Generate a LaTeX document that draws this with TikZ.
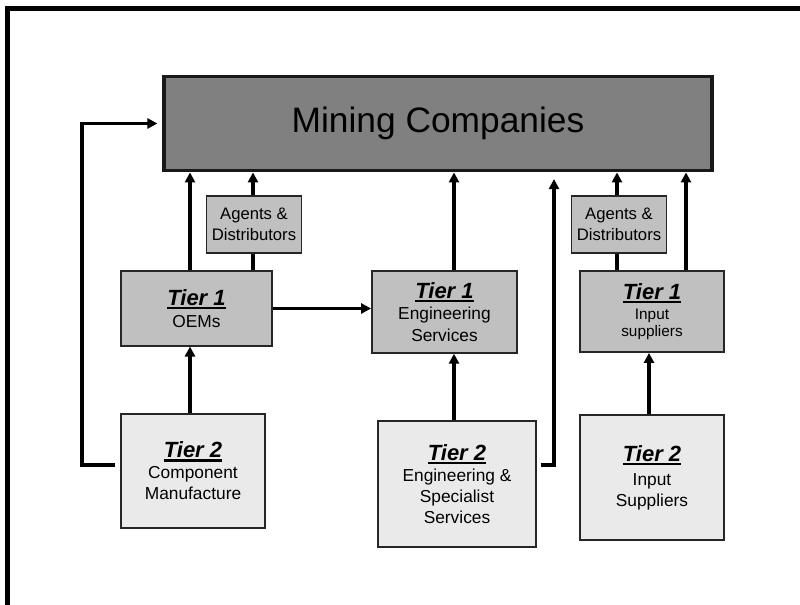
\documentclass[tikz,border=0pt]{standalone}
\usepackage{fontspec}
\setmainfont{Liberation Sans}
\usetikzlibrary{arrows.meta}
\definecolor{minegray}{HTML}{808080}
\definecolor{tieronegray}{HTML}{C0C0C0}
\definecolor{tiertwogray}{HTML}{EAEAEA}
\tikzset{
  mine/.style={rectangle, draw=black!90, line width=2.4pt, fill=minegray,
    minimum width=411pt, minimum height=71pt, font=\fontsize{26.5}{30}\selectfont},
  agent/.style={rectangle, draw=black!85, line width=1.1pt, fill=tieronegray,
    minimum width=71pt, minimum height=43pt, align=center, inner sep=0pt,
    font=\fontsize{12.5}{16}\selectfont},
  tierone/.style={rectangle, draw=black!85, line width=1.1pt, fill=tieronegray,
    align=center, inner sep=0pt, font=\fontsize{13}{16}\selectfont},
  tiertwo/.style={tierone, fill=tiertwogray, font=\fontsize{13}{15.75}\selectfont},
  arrowline/.style={-{Triangle[length=7.5pt, width=7.5pt]}, line width=2.6pt},
  plainline/.style={line width=2.6pt},
  frameline/.style={line width=3.75pt, line join=miter}
}
\newcommand{\tierlbl}[1]{\setbox0\hbox{\fontsize{16.5}{16}\selectfont\bfseries\itshape Tier #1}\rlap{\rule[-2.8pt]{\wd0}{1.7pt}}\box0}

\begin{document}
\begin{tikzpicture}[x=0.75pt, y=-0.75pt]
  \useasboundingbox (0,0) rectangle (800,605);
  \draw[frameline] (7.5,606) -- (7.5,8.5) -- (801,8.5);

  \node[mine] (mining) at (438,123.5) {Mining Companies};
  \node[agent] (agentsA) at (254,224.5) {Agents \&\\Distributors};
  \node[agent] (agentsB) at (619,224.5) {Agents \&\\Distributors};

  \node[tierone, minimum width=113pt, minimum height=56pt] (oem) at (196.5,308.5) {\tierlbl{1}\\OEMs};
  \node[tierone, minimum width=109pt, minimum height=61.5pt] (eng) at (444.5,312) {\tierlbl{1}\\Engineering\\Services};
  \node[tierone, minimum width=108pt, minimum height=61pt, font=\fontsize{11.5}{13}\selectfont] (input) at (652,311.5) {\tierlbl{1}\\[2pt]Input\\suppliers};

  \node[tiertwo, minimum width=108pt, minimum height=85.5pt] (tcomp) at (193,471) {\tierlbl{2}\\Component\\Manufacture};
  \node[tiertwo, minimum width=118.5pt, minimum height=94.5pt] (teng) at (457,484) {\tierlbl{2}\\Engineering \&\\Specialist\\Services};
  \node[tiertwo, minimum width=108pt, minimum height=94pt] (tinput) at (652,477.5) {\tierlbl{2}\\[2pt]Input\\Suppliers};

  % columns of the vertical links
  \coordinate (colA) at (190,0);
  \coordinate (colB) at (253,0);
  \coordinate (colC) at (454,0);
  \coordinate (colE) at (617,0);
  \coordinate (colF) at (649,0);
  \coordinate (colG) at (686,0);
  \coordinate (backL) at (82,465);
  \coordinate (backR) at (554,465);

  \draw[arrowline] (oem.north -| colA) -- (mining.south -| colA);
  \draw[plainline] (oem.north -| colB) -- (agentsA.south -| colB);
  \draw[arrowline] (agentsA.north -| colB) -- (mining.south -| colB);
  \draw[arrowline] (eng.north -| colC) -- (mining.south -| colC);
  \draw[plainline] (input.north -| colE) -- (agentsB.south -| colE);
  \draw[arrowline] (agentsB.north -| colE) -- (mining.south -| colE);
  \draw[arrowline] (input.north -| colG) -- (mining.south -| colG);
  \draw[arrowline] (oem.east) -- (oem.east -| eng.west);

  \draw[arrowline] (tcomp.north -| colA) -- (oem.south -| colA);
  \draw[arrowline] (teng.north -| colC) -- (eng.south -| colC);
  \draw[arrowline] (tinput.north -| colF) -- (input.south -| colF);

  % links that bypass tier 1
  \draw[arrowline, shorten >=3.75pt] ([shift={(-5,-6)}]tcomp.west) -- (backL) |- (mining.west);
  \draw[arrowline, shorten >=5pt] ([shift={(4,-19)}]teng.east) -- (backR) -- (mining.south -| backR);
\end{tikzpicture}
\end{document}
